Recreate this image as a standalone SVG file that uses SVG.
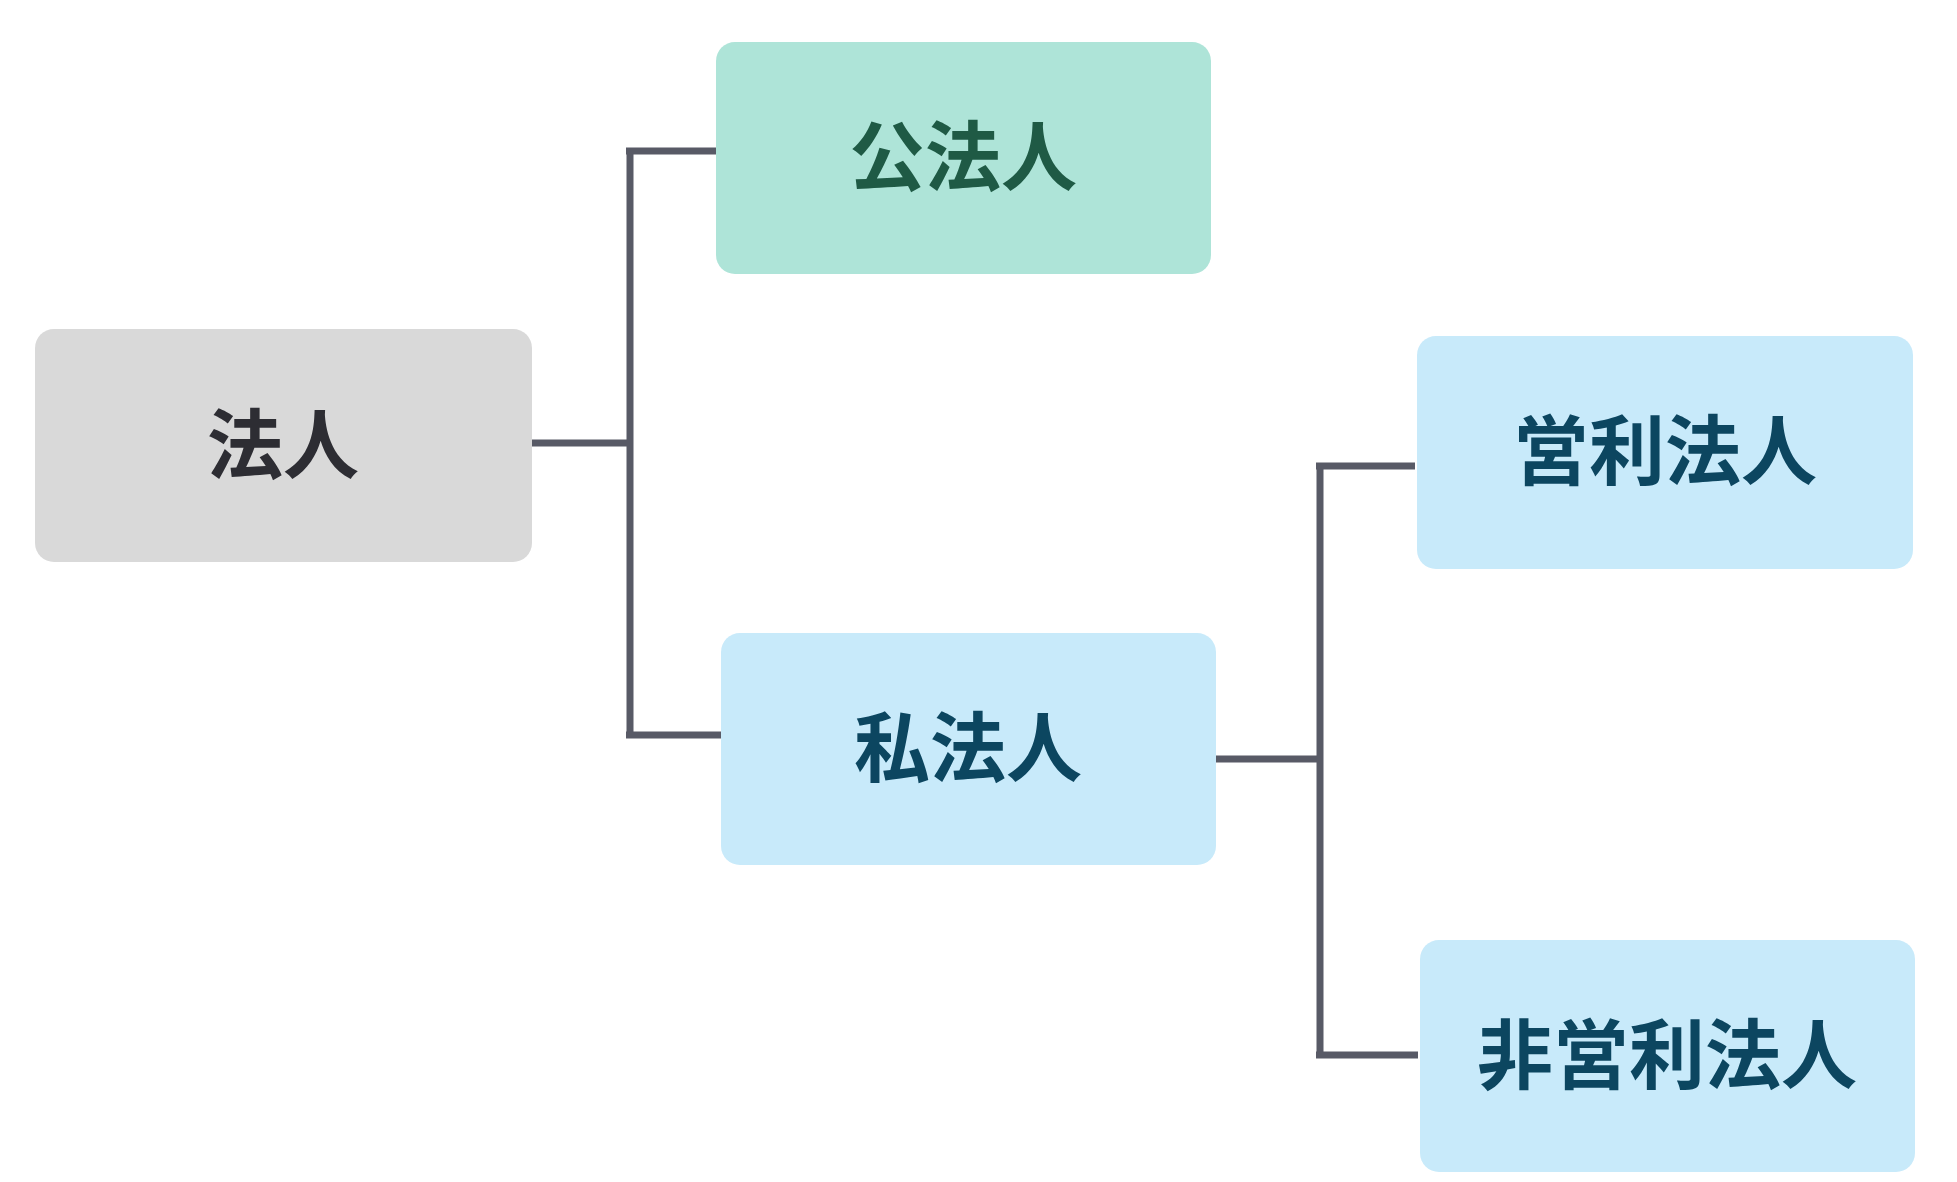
<svg xmlns="http://www.w3.org/2000/svg" width="1957" height="1182" viewBox="0 0 1957 1182">
<style>
.t{font-family:"Noto Sans CJK JP","Noto Sans CJK SC",sans-serif;font-weight:bold;font-size:76px;text-anchor:middle;dominant-baseline:central}
.c{fill:none;stroke:#585a66;stroke-width:7}
</style>
<rect width="1957" height="1182" fill="#fff"/>
<g id="connectors">
<path class="c" d="M532 443H630M630 151V735M626 151H716M626 735H721"/>
<path class="c" d="M1216 759H1320M1320 466V1055M1316 466H1415M1316 1055H1418"/>
</g>
<g id="n1"><rect x="35" y="329" width="497" height="233" rx="19" fill="#d9d9d9"/><text class="t" x="283" y="440" fill="#2d2d33">法人</text></g>
<g id="n2"><rect x="716" y="42" width="495" height="232" rx="19" fill="#aee4d8"/><text class="t" x="963" y="152" fill="#1f5a45">公法人</text></g>
<g id="n3"><rect x="721" y="633" width="495" height="232" rx="19" fill="#c8eafa"/><text class="t" x="968" y="743" fill="#0c4660">私法人</text></g>
<g id="n4"><rect x="1417" y="336" width="496" height="233" rx="19" fill="#c8eafa"/><text class="t" x="1665" y="446" fill="#0c4660">営利法人</text></g>
<g id="n5"><rect x="1420" y="940" width="495" height="232" rx="19" fill="#c8eafa"/><text class="t" x="1667" y="1050" fill="#0c4660">非営利法人</text></g>
</svg>
